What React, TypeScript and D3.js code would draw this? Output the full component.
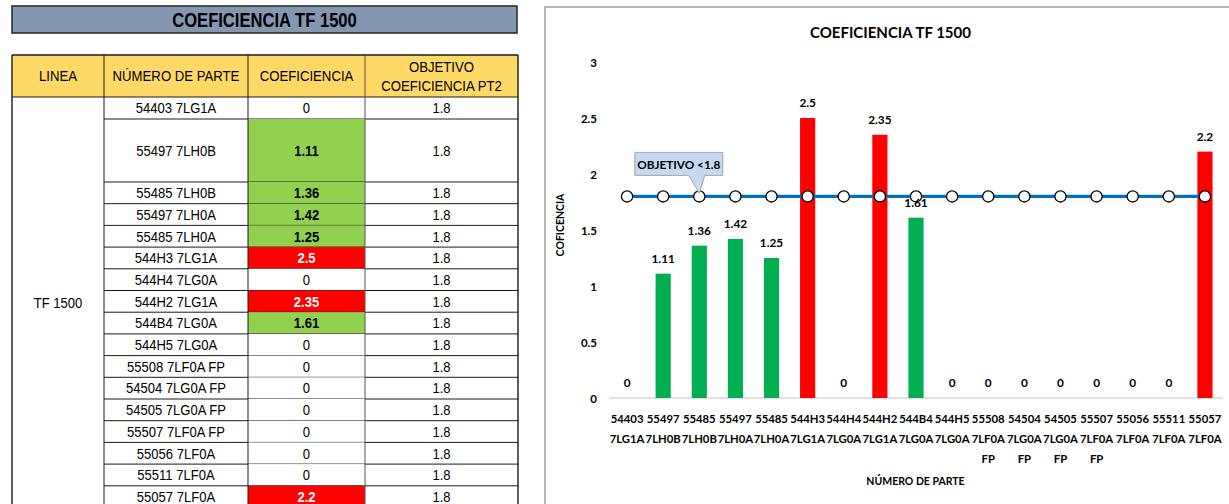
import React from "react";
import * as d3 from "d3";

// Part numbers of line TF 1500
const parts = [
  "54403 7LG1A",
  "55497 7LH0B",
  "55485 7LH0B",
  "55497 7LH0A",
  "55485 7LH0A",
  "544H3 7LG1A",
  "544H4 7LG0A",
  "544H2 7LG1A",
  "544B4 7LG0A",
  "544H5 7LG0A",
  "55508 7LF0A FP",
  "54504 7LG0A FP",
  "54505 7LG0A FP",
  "55507 7LF0A FP",
  "55056 7LF0A",
  "55511 7LF0A",
  "55057 7LF0A",
];
// Measured coefficient per part
const coeficiencia = [0, 1.11, 1.36, 1.42, 1.25, 2.5, 0, 2.35, 1.61, 0, 0, 0, 0, 0, 0, 0, 2.2];
// Target coefficient (PT2)
const objetivo = [1.8, 1.8, 1.8, 1.8, 1.8, 1.8, 1.8, 1.8, 1.8, 1.8, 1.8, 1.8, 1.8, 1.8, 1.8, 1.8, 1.8];
const linea = "TF 1500";
const yTicks = [0, 0.5, 1, 1.5, 2, 2.5, 3];
const titulo = "COEFICIENCIA TF 1500";
const encabezados = ["LINEA", "NÚMERO DE PARTE", "COEFICIENCIA", "OBJETIVO|COEFICIENCIA PT2"];
const etiquetaObjetivo = "OBJETIVO <1.8";

const W = 1229;
const H = 504;

const TABLE_FONT = "'Liberation Sans', Arial, sans-serif";
const CHART_FONT = "Lato, 'Open Sans', sans-serif";

const GREEN_CELL = "#92D050";
const RED = "#FF0000";
const GREEN_BAR = "#00B050";
const LINE_BLUE = "#0070C0";

function NarrowText(props: {
  x: number;
  y: number;
  size: number;
  text: string;
  bold?: boolean;
  fill?: string;
  sx?: number;
}) {
  const { x, y, size, text, bold, fill, sx = 0.85 } = props;
  return (
    <text
      transform={`translate(${x},${y}) scale(${sx},1)`}
      textAnchor="middle"
      dominantBaseline="central"
      fontFamily={TABLE_FONT}
      fontSize={size}
      fontWeight={bold ? 700 : 400}
      fill={fill || "#000"}
    >
      {text}
    </text>
  );
}

function Table() {
  const cols = [12, 104, 248, 365, 518];
  const headTop = 55;
  const headBot = 97;
  // row edges: first row, a tall second row, then regular rows
  const edges: number[] = [headBot];
  parts.forEach((_, i) => {
    const h = i === 0 ? 22 : i === 1 ? 63 : 21.7;
    edges.push(edges[i] + h);
  });
  const bodyBot = edges[edges.length - 1];

  const cellFill = (v: number, obj: number) =>
    v === 0 ? "#fff" : v > obj ? RED : GREEN_CELL;

  return (
    <g>
      {/* title bar */}
      <rect x={12} y={6} width={505} height={27} fill="#8497B0" stroke="#262626" strokeWidth={1.5} />
      <NarrowText x={264.5} y={20} size={20} text={titulo} bold sx={0.83} />

      {/* header */}
      <rect x={cols[0]} y={headTop} width={cols[4] - cols[0]} height={headBot - headTop} fill="#FFD966" />
      {encabezados.map((h, i) => {
        const cx = (cols[i] + cols[i + 1]) / 2;
        const lines = h.split("|");
        const mid = (headTop + headBot) / 2;
        return lines.map((ln, j) => (
          <NarrowText
            key={`${i}-${j}`}
            x={cx}
            y={mid + (j - (lines.length - 1) / 2) * 19}
            size={15.5}
            text={ln}
          />
        ));
      })}

      {/* body cells */}
      {parts.map((p, i) => {
        const y0 = edges[i];
        const y1 = edges[i + 1];
        const cy = (y0 + y1) / 2;
        const v = coeficiencia[i];
        const fill = cellFill(v, objetivo[i]);
        return (
          <g key={p}>
            <rect x={cols[2]} y={y0} width={cols[3] - cols[2]} height={y1 - y0} fill={fill} />
            <NarrowText x={(cols[1] + cols[2]) / 2} y={cy} size={15} text={p} sx={0.87} />
            <NarrowText
              x={(cols[2] + cols[3]) / 2}
              y={cy}
              size={15}
              text={String(v)}
              bold={v !== 0}
              fill={v > objetivo[i] ? "#fff" : "#000"}
              sx={0.87}
            />
            <NarrowText x={(cols[3] + cols[4]) / 2} y={cy} size={15} text={String(objetivo[i])} sx={0.87} />
            <line x1={cols[1]} x2={cols[4]} y1={y1} y2={y1} stroke="#1a1a1a" strokeWidth={1} />
          </g>
        );
      })}
      <NarrowText x={(cols[0] + cols[1]) / 2} y={(headBot + bodyBot) / 2} size={15} text={linea} sx={0.87} />

      {/* grid lines */}
      <line x1={cols[0]} x2={cols[4]} y1={headBot} y2={headBot} stroke="#1a1a1a" strokeWidth={1} />
      {cols.map((c, i) => (
        <line
          key={c}
          x1={c}
          x2={c}
          y1={headTop}
          y2={bodyBot}
          stroke={i === 3 ? "#555" : "#1a1a1a"}
          strokeWidth={i === 0 || i === 4 ? 1.4 : 1}
        />
      ))}
      <line x1={cols[0]} x2={cols[4]} y1={headTop} y2={headTop} stroke="#1a1a1a" strokeWidth={1.4} />
    </g>
  );
}

function Chart() {
  const x = d3.scaleBand<string>().domain(parts).range([609, 1223]).paddingInner(0.58).paddingOuter(0.29);
  const y = d3.scaleLinear().domain([0, 3]).range([398, 62]);
  const bw = x.bandwidth();
  const cx = (p: string) => (x(p) as number) + bw / 2;

  const targetLine = d3
    .line<number>()
    .x((_, i) => cx(parts[i]))
    .y((d) => y(d));

  // callout points at the third target marker
  const tipX = cx(parts[2]);
  const tipY = y(objetivo[2]) - 3;
  const boxX = tipX - 64.5;
  const boxY = tipY - 41;
  const boxW = 88;
  const boxH = 23;

  return (
    <g fontFamily={CHART_FONT} fontWeight={700}>
      <rect x={545} y={7} width={720} height={520} fill="#fff" stroke="#A0A0A0" strokeWidth={1.5} />

      <text x={890.5} y={32} textAnchor="middle" dominantBaseline="central" fontSize={15} fill="#000">
        {titulo}
      </text>

      {/* y ticks */}
      {yTicks.map((t) => (
        <text key={t} x={597} y={y(t)} textAnchor="end" dominantBaseline="central" fontSize={11.5} fill="#000">
          {t}
        </text>
      ))}
      <text
        transform={`translate(560,225) rotate(-90)`}
        textAnchor="middle"
        dominantBaseline="central"
        fontSize={10.5}
        fill="#000"
      >
        COFICENCIA
      </text>

      {/* x axis */}
      <line x1={609} x2={1223} y1={y(0)} y2={y(0)} stroke="#D9D9D9" strokeWidth={1.5} />
      {parts.map((p) =>
        p.split(" ").map((w, j) => (
          <text
            key={`${p}-${j}`}
            x={cx(p)}
            y={418 + j * 20}
            textAnchor="middle"
            dominantBaseline="central"
            fontSize={11.3}
            fill="#000"
          >
            {w}
          </text>
        ))
      )}
      <text x={915.5} y={481} textAnchor="middle" dominantBaseline="central" fontSize={10.5} fill="#000">
        NÚMERO DE PARTE
      </text>

      {/* bars */}
      {parts.map((p, i) => {
        const v = coeficiencia[i];
        return (
          <rect
            key={p}
            x={x(p)}
            y={y(v)}
            width={bw}
            height={y(0) - y(v)}
            fill={v > objetivo[i] ? RED : GREEN_BAR}
          />
        );
      })}

      {/* target line with markers */}
      <path d={targetLine(objetivo) || ""} fill="none" stroke={LINE_BLUE} strokeWidth={3.2} />
      {parts.map((p, i) => (
        <circle key={p} cx={cx(p)} cy={y(objetivo[i])} r={5.6} fill="#fff" stroke="#000" strokeWidth={1.3} />
      ))}

      {/* bar value labels */}
      {parts.map((p, i) => {
        const v = coeficiencia[i];
        return (
          <text
            key={p}
            x={cx(p)}
            y={y(v) - 15.5}
            textAnchor="middle"
            dominantBaseline="central"
            fontSize={11.8}
            fill="#000"
          >
            {v}
          </text>
        );
      })}

      {/* target callout */}
      <path
        d={`M${boxX},${boxY} h${boxW} v${boxH} h${-(boxX + boxW - tipX - 5.5)} L${tipX},${tipY} L${tipX - 10.5},${boxY + boxH} H${boxX} Z`}
        fill="#C5D9F1"
        stroke="#A6A6A6"
        strokeWidth={1}
      />
      <text x={boxX + boxW / 2} y={boxY + boxH / 2 + 0.5} textAnchor="middle" dominantBaseline="central" fontSize={11.8} fill="#000">
        {etiquetaObjetivo}
      </text>
    </g>
  );
}

export default function App() {
  return (
    <svg
      width={W}
      height={H}
      viewBox={`0 0 ${W} ${H}`}
      style={{ position: "absolute", left: 0, top: 0, background: "#fff" }}
    >
      <rect x={0} y={0} width={W} height={H} fill="#fff" />
      <Table />
      <Chart />
    </svg>
  );
}
